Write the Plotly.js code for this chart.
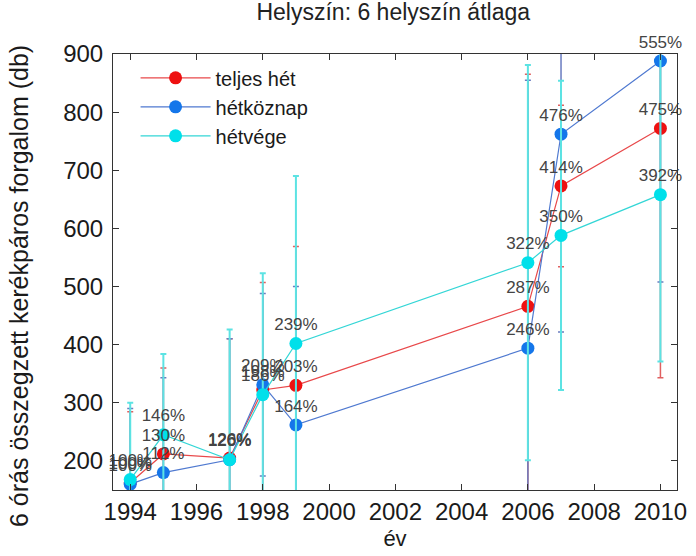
<!DOCTYPE html>
<html><head><meta charset="utf-8">
<script src="https://cdn.plot.ly/plotly-3.0.1.min.js"></script>
<style>html,body{margin:0;padding:0;background:#fff}#chart{width:696px;height:556px}</style>
</head><body><div id="chart"></div>
<script>
const years = [1994, 1995, 1997, 1998, 1999, 2006, 2007, 2010];
const xTicks = [1994, 1996, 1998, 2000, 2002, 2004, 2006, 2008, 2010];

const teljesHet = [162.5, 212, 205, 322, 330, 466, 673, 772];
const teljesHetErr = [122, 148, 205, 185, 239, 399, 139, 429];
const teljesHetLabels = ['100%', '130%', '126%', '198%', '203%', '287%', '414%', '475%'];

const hetkoznap = [160, 180, 202, 331, 262, 394, 762, 888];
const hetkoznapErr = [130, 163, 208, 157, 238, 461, 340, 380];
const hetkoznapLabels = ['100%', '112%', '126%', '209%', '164%', '246%', '476%', '555%'];

const hetvege = [168, 245, 202, 314, 402, 541, 588, 658];
const hetvegeErr = [132, 139, 224, 209, 288, 340, 266, 287];
const hetvegeLabels = ['100%', '146%', '120%', '186%', '239%', '322%', '350%', '392%'];

const FONT = 'Liberation Sans, Arial, sans-serif';

function series(name, y, err, lineColor, markerColor, errColor, errThick) {
  return {
    type: 'scatter', mode: 'lines+markers', name: name,
    x: years, y: y,
    line: {color: lineColor, width: 1.2},
    marker: {color: markerColor, size: 13},
    error_y: {type: 'data', array: err, symmetric: true, color: errColor, thickness: errThick, width: 3},
    cliponaxis: true, hoverinfo: 'x+y'
  };
}
function labels(y, txt) {
  return {
    type: 'scatter', mode: 'markers+text', x: years, y: y, text: txt,
    textposition: 'top center', textfont: {family: FONT, size: 17, color: '#444'},
    marker: {size: 13, color: 'rgba(0,0,0,0)'},
    showlegend: false, hoverinfo: 'skip', cliponaxis: false
  };
}

const data = [
  series('teljes hét', teljesHet, teljesHetErr, '#e8484a', '#ee1111', '#e06060', 1.5),
  series('hétköznap', hetkoznap, hetkoznapErr, '#4f79d0', '#1476ea', '#6a7cc0', 1.5),
  series('hétvége', hetvege, hetvegeErr, '#33d6d6', '#00e0ea', '#5ce3e3', 2),
  labels(teljesHet, teljesHetLabels),
  labels(hetkoznap, hetkoznapLabels),
  labels(hetvege, hetvegeLabels)
];

const layout = {
  width: 696, height: 556,
  margin: {l: 113, r: 19, t: 54, b: 66},
  paper_bgcolor: '#fff', plot_bgcolor: '#fff',
  font: {family: FONT, color: '#1a1a1a'},
  title: {text: 'Helyszín: 6 helyszín átlaga', font: {family: FONT, size: 23, color: '#222'},
    x: 0.565, xref: 'container', xanchor: 'center', y: 0.978, yref: 'container', yanchor: 'middle'},
  showlegend: true,
  legend: {x: 0.04, y: 0.99, xanchor: 'left', yanchor: 'top', font: {family: FONT, size: 20, color: '#1a1a1a'},
    bgcolor: 'rgba(0,0,0,0)', itemwidth: 70, tracegroupgap: 0},
  xaxis: {
    range: [1993.48, 2010.5], tickmode: 'array', tickvals: xTicks, ticktext: xTicks.map(String),
    ticks: 'inside', ticklen: 6, tickcolor: '#333', mirror: 'ticks', showline: true, linecolor: '#333', linewidth: 1,
    showgrid: false, zeroline: false, tickfont: {family: FONT, size: 24, color: '#1a1a1a'},
    title: {text: 'év', font: {family: FONT, size: 22, color: '#1a1a1a'}, standoff: 6}
  },
  yaxis: {
    range: [150, 900], tick0: 0, dtick: 100,
    ticks: 'inside', ticklen: 6, tickcolor: '#333', mirror: 'ticks', showline: true, linecolor: '#333', linewidth: 1,
    showgrid: false, zeroline: false, tickfont: {family: FONT, size: 24, color: '#1a1a1a'}, ticklabelstandoff: 4
  },
  annotations: [{
    text: '6 órás összegzett kerékpáros forgalom (db)', textangle: -90,
    xref: 'paper', yref: 'paper', x: (19 - 113) / 564, y: 1 - (286 - 54) / 436,
    xanchor: 'center', yanchor: 'middle', showarrow: false,
    font: {family: FONT, size: 25, color: '#1a1a1a'}
  }]
};

Plotly.newPlot('chart', data, layout, {displayModeBar: false, responsive: false});
</script>
</body></html>
